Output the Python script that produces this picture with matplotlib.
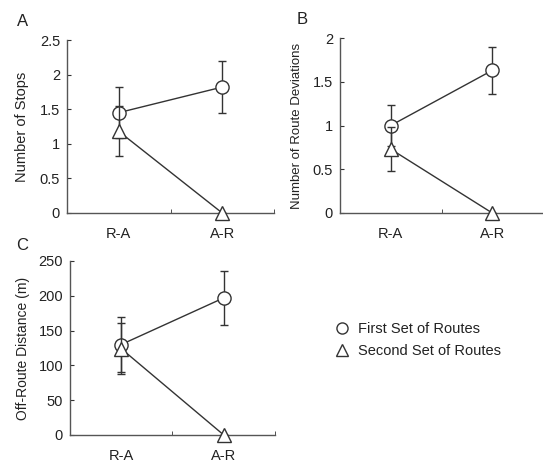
import matplotlib
matplotlib.use("Agg")
import matplotlib.pyplot as plt
from matplotlib.lines import Line2D

plt.rcParams['font.family'] = ['Liberation Sans', 'DejaVu Sans']

categories = ["R-A", "A-R"]
series_names = ["First Set of Routes", "Second Set of Routes"]

stops_first = [1.45, 1.82]
stops_first_err = [0.37, 0.38]
stops_second = [1.18, 0.0]
stops_second_err = [0.36, 0.0]

dev_first = [1.00, 1.63]
dev_first_err = [0.23, 0.27]
dev_second = [0.73, 0.0]
dev_second_err = [0.25, 0.0]

dist_first = [130, 197]
dist_first_err = [39, 39]
dist_second = [124, 0]
dist_second_err = [37, 0]

W, H = 543, 462
fig = plt.figure(figsize=(W / 100, H / 100), dpi=100)

col = '#333333'
txt = '#222222'


def make_ax(left, right, top, bottom):
    return fig.add_axes([left / W, 1 - bottom / H, (right - left) / W, (bottom - top) / H])


def unclip(container):
    for child in container.get_children():
        try:
            child.set_clip_on(False)
        except AttributeError:
            pass


def draw(ax, first, first_err, second, second_err, ymax, ystep, ylabel, ylabel_size, xright):
    x = list(range(len(categories)))
    c1 = ax.errorbar(x, first, yerr=first_err, color=col, lw=1.0, capsize=3, capthick=1.0,
                     marker='o', markersize=9.5, markerfacecolor='white', markeredgecolor=col,
                     markeredgewidth=1.0, zorder=3)
    c2 = ax.errorbar(x, second, yerr=second_err, color=col, lw=1.0, capsize=3, capthick=1.0,
                     marker='^', markersize=9.5, markerfacecolor='white', markeredgecolor=col,
                     markeredgewidth=1.0, zorder=4)
    unclip(c1)
    unclip(c2)
    ax.set_xlim(-0.5, xright)
    ax.set_ylim(0, ymax)
    n = int(round(ymax / ystep))
    ticks = [i * ystep for i in range(n + 1)]
    ax.set_yticks(ticks)
    ax.set_yticklabels([('%g' % t) for t in ticks], fontsize=10.5, color=txt)
    ax.set_xticks(x)
    ax.set_xticklabels(categories, fontsize=10.5, color=txt)
    ax.set_xticks([0.5, 1.5], minor=True)
    ax.tick_params(axis='x', which='major', length=0, pad=10)
    ax.tick_params(axis='x', which='minor', length=3, direction='in', color=col)
    ax.tick_params(axis='y', length=3, direction='in', color=col, pad=5)
    for s in ['top', 'right']:
        ax.spines[s].set_visible(False)
    for s in ['left', 'bottom']:
        ax.spines[s].set_color('#555555')
        ax.spines[s].set_linewidth(1.0)
    ax.set_ylabel(ylabel, fontsize=ylabel_size, color=txt)
    return ax


axA = make_ax(67, 274, 40, 213)
draw(axA, stops_first, stops_first_err, stops_second, stops_second_err, 2.5, 0.5,
     "Number of Stops", 10.5, 1.5)
axA.yaxis.set_label_coords(-0.185, 0.5)

axB = make_ax(340, 543, 38, 213)
draw(axB, dev_first, dev_first_err, dev_second, dev_second_err, 2.0, 0.5,
     "Number of Route Deviations", 9.5, 1.45)
axB.yaxis.set_label_coords(-0.18, 0.5)

axC = make_ax(70, 275, 261, 435)
draw(axC, dist_first, dist_first_err, dist_second, dist_second_err, 250, 50,
     "Off-Route Distance (m)", 10, 1.5)
axC.yaxis.set_label_coords(-0.195, 0.5)

fig.text(17 / W, 1 - 21 / H, "A", fontsize=12, color=txt, va='center', ha='left')
fig.text(297 / W, 1 - 20 / H, "B", fontsize=12, color=txt, va='center', ha='left')
fig.text(16 / W, 1 - 246 / H, "C", fontsize=12, color=txt, va='center', ha='left')

handles = [
    Line2D([], [], ls='none', marker='o', markersize=8, markerfacecolor='white',
           markeredgecolor=col, markeredgewidth=1.0),
    Line2D([], [], ls='none', marker='^', markersize=9, markerfacecolor='white',
           markeredgecolor=col, markeredgewidth=1.0),
]
fig.legend(handles, series_names, loc='upper left', bbox_to_anchor=(335 / W, 1 - 322 / H),
           frameon=False, fontsize=10.5, handlelength=1.0, handletextpad=0.6,
           labelspacing=0.55, borderaxespad=0, borderpad=0, labelcolor=txt)

fig.savefig("out.png", dpi=100)
